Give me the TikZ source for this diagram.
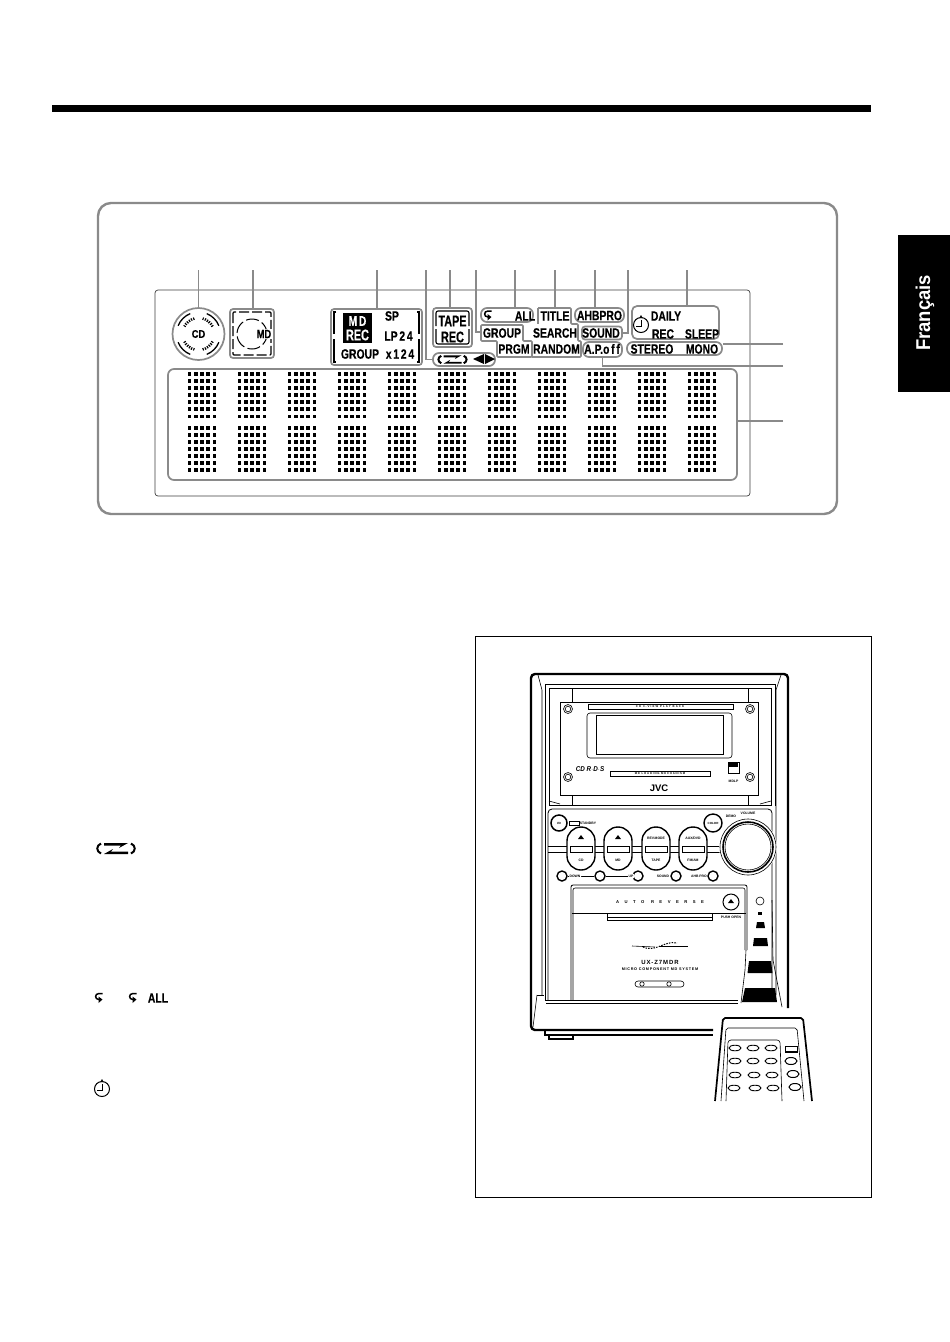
\documentclass[tikz,border=0pt]{standalone}
\usepackage{fontspec}
\setmainfont{Liberation Sans}
\newfontfamily\lcdfont[FakeBold=.5]{Liberation Sans Bold}
\usepackage{xcolor}
\usetikzlibrary{positioning}
\definecolor{leadgray}{HTML}{8A8A8A}

\tikzset{
    leader/.style={draw=leadgray, line width=1.3pt},
    lcdgroup/.style={draw=leadgray, line width=1.7pt, rounded corners=3pt, minimum width=#1},
    lcdoval/.style={draw=leadgray, line width=1.7pt, rounded corners=6pt, minimum width=#1},
    lcdtext/.style={font=\lcdfont\fontsize{13.5}{13.5}\selectfont, xscale=.77, inner sep=0pt},
    lcdbig/.style={font=\lcdfont\fontsize{15.5}{15.5}\selectfont, xscale=.7, inner sep=0pt},
    devtext/.style={font=\fontsize{3.4}{3.4}\selectfont\bfseries, inner sep=0pt},
    devline/.style={line width=.6pt},
    knob/.style={draw, line width=1.4pt, fill=white},
    pics/revicon/.style={code={
        \fill (-12,-5.5) -- (12,-5.5) -- (3,-.5) -- (5,-3) -- (-12,-3) -- cycle;
        \fill (12,5.5) -- (-12,5.5) -- (-3,.5) -- (-5,3) -- (12,3) -- cycle;
        \draw[line width=2pt] (-15,-5) .. controls (-20,-3) and (-20,3) .. (-15,5);
        \draw[line width=2pt] (15,-5) .. controls (20,-3) and (20,3) .. (15,5);
    }},
    pics/repeaticon/.style={code={
        \draw[line width=1.5pt] (3.5,-4.5) -- (0,-4.5) .. controls (-4.5,-4.5) and (-4.5,1.5) .. (0,1.5);
        \fill (-.5,-1.5) -- (3.5,1.5) -- (-.5,5) -- cycle;
    }},
    pics/clockicon/.style={code={
        \draw[line width=1pt] (0,0) circle (7.5pt);
        \draw[line width=1pt] (0,-5) -- (0,1.5) -- (-5,1.5);
        \fill (0,-10) -- (1.6,-7) -- (-1.6,-7) -- cycle;
    }},
}

\begin{document}
\begin{tikzpicture}[x=1pt, y=-1pt]
    \useasboundingbox (0,0) rectangle (950,1342);
    \fill[white] (0,0) rectangle (950,1342);

    % Page rule and tab
    \fill (52,105) rectangle (871,112);
    \fill (898,235) rectangle (950,392);
    \node[white, rotate=90, font=\fontsize{20}{20}\selectfont\bfseries, xscale=.92] (tablabel) at (925,313) {Français};

    % Display panel
    \draw[draw=leadgray, line width=2.4pt, rounded corners=13pt] (98,203) rectangle (837,514);
    \draw[draw=black!75, line width=.7pt, rounded corners=3pt] (155,290) rectangle (750,496);

    % Leader tops
    \foreach \name/\x in {topa/198.5, topb/253, topc/377, topd/426, tope/450, topf/476, topg/515, toph/555, topi/595, topj/628, topk/687} {
        \coordinate (\name) at (\x,270);
    }
    \coordinate (rightm) at (783,344);
    \coordinate (rightn) at (783,366);
    \coordinate (righto) at (783,421);

    % CD
    \node[circle, draw=leadgray, line width=1.7pt, minimum size=52pt, inner sep=0pt] (cdgroup) at (198.5,334) {};
    \node[font=\lcdfont\fontsize{11}{11}\selectfont, xscale=.85, inner sep=0pt] (cdlabel) at (198.5,334) {CD};
    \foreach \a/\b in {22/68, 112/158, 202/248, 292/338} {
        \draw[line width=1.3pt] (198.5,334) ++(\a:22pt) arc[start angle=\a, end angle=\b, radius=22pt];
    }
    \foreach \a/\b in {28/75, 105/152, 208/255, 285/332} {
        \draw[line width=2.6pt, dash pattern=on 1.2pt off 1.2pt] (198.5,334) ++(\a:16pt) arc[start angle=\a, end angle=\b, radius=16pt];
    }

    % MD
    \node[lcdgroup=44pt, minimum height=49pt] (mdgroup) at (252,333.5) {};
    \draw[line width=1.1pt, dash pattern=on 10pt off 3pt, rounded corners=1pt] (233,312) rectangle (271,355);
    \draw[line width=1pt, dash pattern=on 13pt off 3.5pt] (252,334) circle (15pt);
    \node[lcdtext, fill=white, inner sep=1pt, font=\lcdfont\fontsize{12}{12}\selectfont] (mdlabel) at (264,334) {MD};

    % MD REC group
    \node[lcdgroup=91pt, minimum height=56pt] (recgroup) at (376.5,337) {};
    \draw[line width=1.1pt] (336,312) -- (334,312) -- (334,334) (334,339) -- (334,362) -- (336,362);
    \draw[line width=1.1pt] (417,312) -- (419,312) -- (419,334) (419,339) -- (419,362) -- (417,362);
    \fill (343,313) rectangle (372,343);
    \node[lcdbig, white, xscale=1.05, font=\lcdfont\fontsize{14}{14}\selectfont] (mdinv) at (357.5,321) {M\,D};
    \node[lcdbig, white] (recinv) at (357.5,335) {REC};
    \node[lcdtext] (splabel) at (392,316) {SP};
    \node[lcdtext] (lplabel) at (398.5,336) {LP\,2\,4};
    \node[lcdtext] (grouplabela) at (360,354) {GROUP};
    \node[lcdtext] (xlabel) at (400,354) {x\,1\,2\,4};

    % Tape
    \node[lcdgroup=39pt, minimum height=39pt] (tapegroup) at (452.5,327.5) {};
    \draw[line width=1.1pt, rounded corners=2pt] (436,326) -- (436,311) -- (469,311) -- (469,326);
    \draw[line width=1.1pt, rounded corners=2pt] (436,329) -- (436,344) -- (469,344) -- (469,329);
    \node[lcdbig] (tapelabel) at (452.5,321) {TAPE};
    \node[lcdbig] (reclabel) at (452.5,337) {REC};

    % Reverse arrows
    \node[lcdoval=62pt, minimum height=13pt] (revgroup) at (464,359.5) {};
    \pic[scale=.75] at (452.5,359.5) {revicon};
    \fill (484,354) -- (484,364) -- (473,359) -- cycle;
    \fill (485,354) -- (485,364) -- (495,359) -- cycle;

    % Repeat all
    \node[lcdoval=52pt, minimum height=14pt] (allgroup) at (507,315) {};
    \pic at (488,315.5) {repeaticon};
    \node[lcdtext] (alllabel) at (525,316) {ALL};

    % Group and program
    \draw[leader, line width=1.7pt, rounded corners=1pt] (481,325) -- (523,325) -- (523,341) -- (532,341) -- (532,357) -- (497,357) -- (497,341) -- (481,341) -- cycle;
    \coordinate (groupedge) at (481,332);
    \node[lcdtext] (grouplabelb) at (502,333) {GROUP};
    \node[lcdtext] (prgmlabel) at (514,349) {PRGM};

    % Title and search
    \draw[leader, line width=1.7pt, rounded corners=1pt] (538,308) -- (571,308) -- (571,324) -- (578,324) -- (578,341) -- (581,341) -- (581,357) -- (532,357);
    \draw[leader, line width=1.7pt] (538,308) -- (538,324);
    \coordinate (titleedge) at (555,308);
    \node[lcdtext] (titlelabel) at (555,316) {TITLE};
    \node[lcdtext] (searchlabel) at (555,333) {SEARCH};
    \node[lcdtext] (randomlabel) at (556.5,349) {RANDOM};

    % Sound modes
    \node[lcdoval=49pt, minimum height=14pt] (ahbgroup) at (599.5,315) {};
    \node[lcdtext] (ahblabel) at (599.5,315.5) {AHBPRO};
    \node[lcdgroup=40pt, minimum height=13pt] (soundgroup) at (602,333) {};
    \node[lcdtext] (soundlabel) at (601,333) {SOUND};
    \node[lcdoval=39pt, minimum height=15pt] (apgroup) at (602.5,349.5) {};
    \node[lcdtext] (aplabel) at (602,349) {A.P.o\,f\,f};

    % Timer
    \node[lcdgroup=87pt, minimum height=33pt, rounded corners=5pt] (timergroup) at (675.5,322.5) {};
    \pic at (641,325) {clockicon};
    \node[lcdtext] (dailylabel) at (666,316) {DAILY};
    \node[lcdtext] (timerrec) at (663,334) {REC};
    \node[lcdtext] (sleeplabel) at (702,334) {SLEEP};

    % Stereo
    \node[lcdoval=95pt, minimum height=13pt] (stereogroup) at (674.5,348.5) {};
    \node[lcdtext] (stereolabel) at (652,349) {STEREO};
    \node[lcdtext] (monolabel) at (702,349) {MONO};

    % Dot matrix
    \node[lcdgroup=569pt, minimum height=111pt, rounded corners=6pt] (dotgroup) at (452.5,424.5) {};
    \foreach \c in {0,...,10} {
        \foreach \r in {0,...,4} {
            \foreach \s in {0,...,6} {
                \fill ({189.5+50*\c+6.25*\r-1.8},{374+7.05*\s-1.8}) rectangle ++(3.6,3.6);
                \fill ({189.5+50*\c+6.25*\r-1.8},{428+7*\s-1.8}) rectangle ++(3.6,3.6);
            }
        }
    }

    % Leaders
    \draw[leader] (topa) -- (cdgroup.north);
    \draw[leader] (topb) -- (topb |- mdgroup.north);
    \draw[leader] (topc) -- (topc |- recgroup.north);
    \draw[leader] (topd) |- (revgroup.west);
    \draw[leader] (tope) -- (tope |- tapegroup.north);
    \draw[leader] (topf) |- (groupedge);
    \draw[leader] (topg) -- (topg |- allgroup.north);
    \draw[leader] (toph) -- (titleedge);
    \draw[leader] (topi) -- (topi |- ahbgroup.north);
    \draw[leader] (topj) |- (soundgroup.east);
    \draw[leader] (topk) -- (topk |- timergroup.north);
    \draw[leader] (rightm) -- (rightm -| stereogroup.east);
    \draw[leader] (rightn) -| (apgroup.south);
    \draw[leader] (righto) -- (righto -| dotgroup.east);

    % Icons in the text
    \pic at (116,848.5) {revicon};
    \pic at (99,998) {repeaticon};
    \pic at (133,998) {repeaticon};
    \node[lcdtext] (textall) at (158,998) {ALL};
    \pic at (102,1089) {clockicon};

    % Illustration frame
    \draw[line width=.7pt] (475,636) rectangle (871,1197);

    % Unit case
    \draw[line width=2.4pt, rounded corners=4pt] (788,1008) -- (788,674) -- (531,674) -- (531,1030) -- (713,1030);
    \draw[devline] (538,675) -- (542,690) -- (542,995);
    \draw[devline] (781,675) -- (776,690) -- (776,995);
    \draw[devline] (537,995) -- (533,1027);
    \draw[devline] (537,995) -- (544,995);
    \draw[line width=1.2pt] (545,1031) -- (545,1035) -- (713,1035);
    \draw[line width=1.2pt] (549,1036) -- (549,1039) -- (573,1039) -- (573,1036);
    \draw[line width=1pt] (545,684) -- (775,684);
    \draw[line width=1pt] (545,684) -- (545,1000) -- (738,1000);
    \draw[line width=1pt] (775,684) -- (775,806);
    \draw[devline] (546,1003) -- (738,1003);

    % Front cover
    \draw[line width=.8pt] (549,688) rectangle (771,805);
    \draw[devline] (549,801) -- (560,804) (771,801) -- (760,804);
    \draw[devline] (572,689) -- (572,702) (748,689) -- (748,702) (572,795) -- (572,805) (748,795) -- (748,805);
    \draw[line width=.8pt] (560,702) rectangle (758,795);
    \draw[devline, rounded corners=3pt] (587,713) rectangle (732,758);
    \draw[devline] (596,715) rectangle (723,754);
    \draw[line width=.9pt] (588,704) rectangle (733,709);
    \node[devtext, font=\fontsize{2.8}{2.8}\selectfont\bfseries] (cdslot) at (660,706.5) {\addfontfeature{LetterSpace=40}CD 3-VIEW PLAY BACK};
    \draw[line width=.9pt] (610,771) rectangle (710,776);
    \node[devtext, font=\fontsize{2.8}{2.8}\selectfont\bfseries] (mdslot) at (660,773.5) {\addfontfeature{LetterSpace=30}MD LOADING MECHANISM};
    \foreach \x/\y in {568/709, 750/709, 568/777, 750/777} {
        \draw[devline] (\x,\y) circle (4.5pt) (\x,\y) circle (2.8pt);
    }
    \node[font=\fontsize{9.5}{9.5}\selectfont\bfseries, inner sep=0pt] (jvclabel) at (659,788) {JVC};
    \node[font=\fontsize{7}{7}\selectfont\bfseries\itshape, xscale=.9, inner sep=0pt] (rdslabel) at (590,769) {CD R$\cdot$D$\cdot$S};
    \draw[line width=1pt] (728,762) rectangle (739,773);
    \fill (729,763) rectangle (738,767);
    \node[devtext] (mdlplabel) at (733.5,781) {MDLP};

    % Control panel
    \draw[line width=.8pt, rounded corners=4pt] (548,1000) -- (548,809) -- (772,809) -- (772,1000);
    \draw[devline] (548,846) -- (772,846) (548,852) -- (772,852);
    \node[circle, knob, line width=1.5pt, minimum size=16pt, inner sep=0pt, font=\fontsize{3}{3}\selectfont\bfseries] (powerbtn) at (559,823) {I/O};
    \draw[line width=.9pt] (569,821) rectangle (579,825);
    \node[devtext] (standbylabel) at (588,823) {STANDBY};
    \foreach \x in {581, 618, 656, 693} {
        \draw[knob] (\x-14,841) arc[start angle=180, end angle=0, radius=14pt] -- (\x+14,856) arc[start angle=0, end angle=-180, radius=14pt] -- cycle;
        \draw[devline] (\x-11,846) rectangle (\x+11,852);
    }
    \fill (581,835) -- (584,839) -- (578,839) -- cycle;
    \fill (618,835) -- (621,839) -- (615,839) -- cycle;
    \node[devtext] (revlabel) at (656,838) {REV.MODE};
    \node[devtext] (auxlabel) at (693,838) {AUX/DVD};
    \node[devtext] (cdbtn) at (581,860) {CD};
    \node[devtext] (mdbtn) at (618,860) {MD};
    \node[devtext] (tapebtn) at (656,860) {TAPE};
    \node[devtext] (fmlabel) at (693,860) {FM/AM};
    \node[circle, knob, minimum size=18pt, inner sep=0pt, font=\fontsize{3}{3}\selectfont\bfseries] (colorbtn) at (713,823) {COLOR};
    \node[devtext] (demolabel) at (731,816) {DEMO};
    \node[devtext] (volumelabel) at (748,813) {VOLUME};
    \fill[white] (748,847) circle (29pt);
    \draw[devline] (748,847) circle (28pt);
    \draw[line width=1.6pt] (748,847) circle (25pt);
    \draw[devline] (748,847) circle (23pt);
    \foreach \x/\name in {562/btne, 600/btnf, 638/btng, 676/btnh, 713/btni} {
        \node[circle, knob, minimum size=10pt, inner sep=0pt] (\name) at (\x,876) {};
    }
    \draw[devline] (btne) -- (btnf) (btnf) -- (btng);
    \fill[white] (569,874) rectangle (581,878) (628,874) rectangle (634,878);
    \node[devtext] (downlabel) at (575,876) {DOWN};
    \node[devtext] (uplabel) at (631,876) {UP};
    \node[devtext] (soundbtn) at (663,876) {SOUND};
    \node[devtext] (ahbbtn) at (699,876) {AHB PRO};

    % Cassette door
    \draw[line width=.8pt, rounded corners=2pt] (571,1000) -- (571,885) -- (747,885) -- (747,950);
    \draw[devline, rounded corners=2pt] (573,1000) -- (573,888) -- (745,888) -- (745,950);
    \draw[devline] (572,913) -- (746,913);
    \draw[line width=.8pt] (607,913) rectangle (712,920);
    \draw[devline] (607,917) -- (712,917);
    \node[font=\fontsize{4.2}{4.2}\selectfont\bfseries, inner sep=0pt] (autolabel) at (660,902) {\addfontfeature{LetterSpace=130}AUTO REVERSE};
    \node[circle, knob, line width=1pt, minimum size=16pt, inner sep=0pt] (ejectbtn) at (731,902) {};
    \fill (731,899) -- (734,903) -- (728,903) -- cycle;
    \node[devtext] (pushlabel) at (731,917) {PUSH OPEN};
    \draw[devline] (632,946) -- (655,947);
    \draw[line width=1pt, dash pattern=on 1.5pt off 1.2pt] (643,947) .. controls (655,953) and (665,940) .. (677,943);
    \draw[devline] (660,946) -- (688,946);
    \node[font=\fontsize{6}{6}\selectfont\bfseries, inner sep=0pt] (modellabel) at (660,962) {\addfontfeature{LetterSpace=15}UX-Z7MDR};
    \node[font=\fontsize{3.8}{3.8}\selectfont\bfseries, inner sep=0pt] (microlabel) at (660,969) {\addfontfeature{LetterSpace=18}MICRO COMPONENT MD SYSTEM};
    \draw[devline, rounded corners=3pt] (635,981) rectangle (684,987);
    \draw[devline] (642,984) circle (2.2pt) (669,984) circle (2.2pt);

    % Remote sensor and beam
    \draw[devline] (760,901) circle (4pt);
    \fill (758,911.5) rectangle (762,914.5);
    \fill (757,922) -- (764,922) -- (765,928) -- (756,928) -- cycle;
    \fill (754,938) -- (767,938) -- (768,946) -- (753,946) -- cycle;
    \fill (749,961) -- (771,961) -- (772.5,973) -- (747.5,973) -- cycle;
    \fill (745,988) -- (775,988) -- (777,1002) -- (742,1002) -- cycle;
    \draw[devline] (746,950) -- (745,970) -- (741,1003);
    \draw[devline] (772,900) -- (773,960) -- (782,1007);

    % Remote control
    \fill[white] (713,1101) -- (722,1016) -- (804,1016) -- (814,1101) -- cycle;
    \draw[line width=1.7pt, rounded corners=2pt] (715,1101) -- (723,1018) -- (803,1018) -- (812,1101);
    \draw[devline, rounded corners=2pt] (721,1101) -- (726,1028) -- (797,1028) -- (804,1101);
    \draw[devline, rounded corners=3pt] (726,1101) -- (728,1040) -- (780,1040) -- (782,1101);
    \foreach \x/\y in {735/1048, 753/1048, 771/1048, 735/1061, 753/1061, 771/1061, 735/1075, 754/1075, 772/1075, 734/1088, 755/1088, 773/1088} {
        \draw[line width=.9pt] (\x,\y) ellipse (6pt and 2.8pt);
    }
    \draw[line width=.8pt] (785,1046) rectangle (797,1052);
    \fill (785,1050.5) rectangle (797,1052);
    \foreach \x/\y in {791/1061, 793/1074, 795/1087} {
        \draw[line width=1pt] (\x,\y) ellipse (6pt and 3.5pt);
    }
\end{tikzpicture}
\end{document}
